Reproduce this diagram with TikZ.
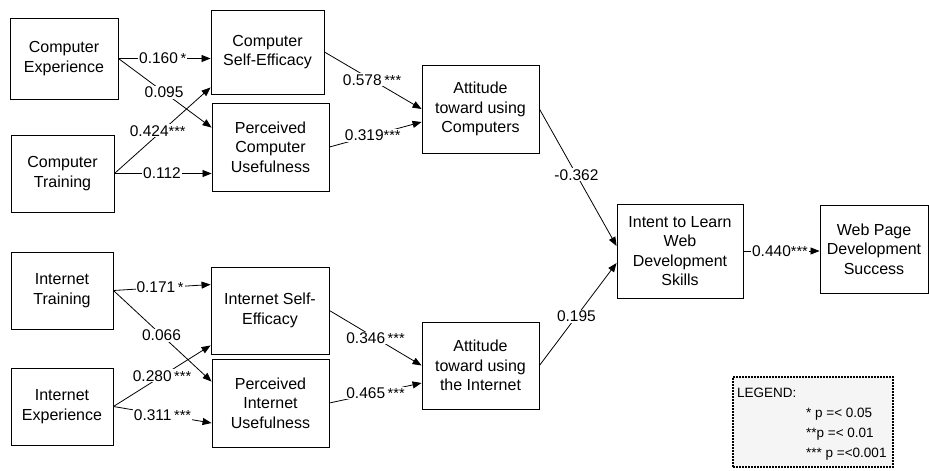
\documentclass[tikz,border=0pt]{standalone}
\usepackage{fontspec}
\setmainfont{Liberation Sans}
\usepackage{tikz}
\usetikzlibrary{arrows.meta}
\newcommand{\sig}[1]{{\fontsize{14.5}{14.5}\selectfont #1}}

\tikzset{
    var/.style={draw, line width=0.9pt, inner sep=0pt, align=center,
        font=\fontsize{16}{19.5}\selectfont},
    effect/.style={line width=0.8pt, -{Triangle[length=9pt, width=7pt]}},
    coef/.style={fill=white, inner sep=1pt, font=\fontsize{15.5}{19}\selectfont},
    legendbox/.style={draw, line width=2pt, dash pattern=on 2pt off 1pt,
        fill=black!4, inner sep=0pt},
    legendtext/.style={anchor=west, inner sep=0pt, font=\fontsize{13.5}{16}\selectfont}
}

\begin{document}
\begin{tikzpicture}[x=1pt, y=-1pt]
    \useasboundingbox (0,0) rectangle (929,471);

    % Computer side
    \node[var, minimum width=108pt, minimum height=81pt] (ce) at (64,58.5) {Computer\\Experience};
    \node[var, minimum width=103pt, minimum height=77pt] (ct) at (62.5,173.5) {Computer\\Training};
    \node[var, minimum width=113pt, minimum height=84pt] (cse) at (267.5,52) {Computer\\Self-Efficacy};
    \node[var, minimum width=117pt, minimum height=88pt] (pcu) at (270.5,147) {Perceived\\Computer\\Usefulness};
    \node[var, minimum width=117pt, minimum height=88pt] (attc) at (480.5,109) {Attitude\\toward using\\Computers};

    % Internet side
    \node[var, minimum width=102pt, minimum height=77pt] (it) at (62,290.5) {Internet\\Training};
    \node[var, minimum width=102pt, minimum height=77pt] (ie) at (62,406.5) {Internet\\Experience};
    \node[var, minimum width=118pt, minimum height=87pt] (ise) at (270,310.5) {Internet Self-\\Efficacy};
    \node[var, minimum width=117pt, minimum height=88pt] (piu) at (270.5,403) {Perceived\\Internet\\Usefulness};
    \node[var, minimum width=117pt, minimum height=87pt] (atti) at (480.5,365.5) {Attitude\\toward using\\the Internet};

    % Outcomes
    \node[var, minimum width=126pt, minimum height=94pt] (intent) at (680,251) {Intent to Learn\\Web\\Development\\Skills};
    \node[var, minimum width=108pt, minimum height=88pt] (wpds) at (874,249) {Web Page\\Development\\Success};

    % Paths, computer side
    \draw[effect] (ce.east) -- node[coef, pos=0.48] {0.160\,\sig{*}} (ce.east -| cse.west);
    \draw[effect] (ce.east) -- node[coef, pos=0.49] {0.095} ([yshift=-25pt]pcu.north west);
    \draw[effect] (ct.east) -- node[coef, pos=0.45, yshift=4pt] {0.424\sig{***}} ([yshift=7pt]cse.south west);
    \draw[effect] (ct.east) -- node[coef, pos=0.49] {0.112} (ct.east -| pcu.west);
    \draw[effect] (cse.east) -- node[coef, pos=0.49] {0.578\,\sig{***}} (attc.west);
    \draw[effect] (pcu.east) -- node[coef, pos=0.47] {0.319\sig{***}} ([yshift=-13pt]attc.west);

    % Paths, internet side
    \draw[effect] (it.east) -- node[coef, pos=0.48] {0.171\,\sig{*}} ([yshift=-18pt]ise.north west);
    \draw[effect] (it.east) -- node[coef, pos=0.49] {0.066} ([yshift=-23pt]piu.north west);
    \draw[effect] (ie.east) -- node[coef, pos=0.5] {0.280\,\sig{***}} ([yshift=9pt]ise.south west);
    \draw[effect] (ie.east) -- node[coef, pos=0.5] {0.311\,\sig{***}} ([yshift=-20pt]piu.west);
    \draw[effect] (ise.east) -- node[coef, pos=0.5] {0.346\,\sig{***}} (atti.west);
    \draw[effect] (piu.east) -- node[coef, pos=0.5] {0.465\,\sig{***}} ([yshift=-17.5pt]atti.west);

    % Paths to intent and success
    \draw[effect] (attc.east) -- node[coef, pos=0.48] {-0.362} ([yshift=5pt]intent.west);
    \draw[effect] (atti.east) -- node[coef, pos=0.48] {0.195} ([yshift=-12pt]intent.west);
    \draw[effect] (intent.east) -- node[coef, pos=0.48] {0.440\sig{***}} (intent.east -| wpds.west);

    % Legend
    \node[legendbox, minimum width=160pt, minimum height=90pt] (lgd) at (813,422) {};
    \node[legendtext] (lgdtitle) at (737,393) {LEGEND:};
    \node[legendtext] (lgdone) at (806,414) {* p =< 0.05};
    \node[legendtext] (lgdtwo) at (806,434) {**p =< 0.01};
    \node[legendtext] (lgdthree) at (806,454) {*** p =<0.001};
\end{tikzpicture}
\end{document}
